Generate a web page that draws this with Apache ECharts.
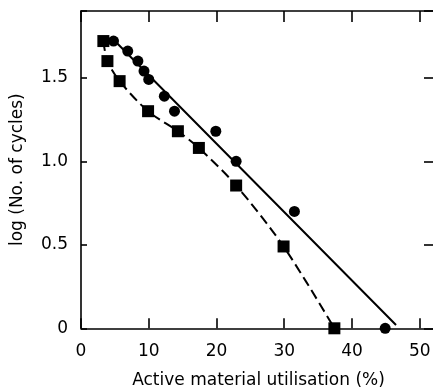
<!DOCTYPE html>
<html>
<head>
<meta charset="utf-8">
<script src="https://cdn.jsdelivr.net/npm/echarts@6/dist/echarts.min.js"></script>
<style>html,body{margin:0;padding:0;background:#fff;}#c{width:433px;height:387px;}</style>
</head>
<body>
<div id="c"></div>
<script>
// Circles (solid line data)
const circleX = [4.8, 6.9, 8.4, 9.3, 10.0, 12.3, 13.8, 19.9, 22.9, 31.5, 44.9];
const circleY = [1.72, 1.66, 1.60, 1.54, 1.49, 1.39, 1.30, 1.18, 1.00, 0.70, 0.0];
// Squares (dashed line data)
const squareX = [3.3, 3.9, 5.7, 9.9, 14.3, 17.4, 22.9, 29.9, 37.4];
const squareY = [1.72, 1.60, 1.48, 1.30, 1.18, 1.08, 0.855, 0.49, 0.0];
// Fitted curves
const solidFitX = [3.4, 5.0, 46.5];
const solidFitY = [1.73, 1.72, 0.02];
const dashFitX = [3.3, 3.9, 5.7, 9.9, 14.3, 17.4, 22.9, 29.9, 37.4];
const dashFitY = [1.72, 1.60, 1.48, 1.30, 1.18, 1.08, 0.855, 0.49, 0.0];
// Ticks
const xTicks = [0, 10, 20, 30, 40, 50];
const yTicks = ['0', '0.5', '1.0', '1.5'];

const zip = (a, b) => a.map((v, i) => [v, b[i]]);
const FONT = 'DejaVu Sans';
const chart = echarts.init(document.getElementById('c'), null, {renderer: 'canvas'});
const xLab = v => xTicks.indexOf(Math.round(v * 1000) / 1000) >= 0 ? String(v) : '';
const yLab = v => { const s = v === 0 ? '0' : v.toFixed(1); return yTicks.indexOf(s) >= 0 && Math.abs(v - parseFloat(s)) < 1e-6 ? s : ''; };
const lineStyle = {color: '#000', width: 1.6};
chart.setOption({
  animation: false,
  backgroundColor: '#fff',
  grid: {left: 81, top: 11, width: 355, height: 317.3, containLabel: false, outerBoundsMode: 'none'},
  xAxis: [{
    type: 'value', min: 0, max: 52.4, interval: 10, position: 'bottom',
    name: 'Active material utilisation (%)', nameLocation: 'middle', nameGap: 44,
    nameTextStyle: {fontFamily: FONT, fontSize: 17, color: '#000'},
    axisLine: {show: true, onZero: false, lineStyle: lineStyle},
    axisTick: {show: true, inside: true, length: 10, lineStyle: lineStyle},
    axisLabel: {formatter: xLab, margin: 15, fontFamily: FONT, fontSize: 17, color: '#000'},
    splitLine: {show: false}
  }, {
    type: 'value', min: 0, max: 52.4, interval: 10, position: 'top',
    axisLine: {show: true, onZero: false, lineStyle: lineStyle},
    axisTick: {show: true, inside: true, length: 11, lineStyle: lineStyle},
    axisLabel: {show: false}, splitLine: {show: false}
  }],
  yAxis: [{
    type: 'value', min: 0, max: 1.9, interval: 0.5, position: 'left',
    name: 'log (No. of cycles)', nameLocation: 'middle', nameGap: 55, nameRotate: 90,
    nameTextStyle: {fontFamily: FONT, fontSize: 17, color: '#000'},
    axisLine: {show: true, onZero: false, lineStyle: lineStyle},
    axisTick: {show: true, inside: true, length: 6, lineStyle: lineStyle},
    axisLabel: {formatter: yLab, margin: 13, fontFamily: FONT, fontSize: 17, color: '#000'},
    splitLine: {show: false}
  }, {
    type: 'value', min: 0, max: 1.9, interval: 0.5, position: 'right',
    axisLine: {show: true, onZero: false, lineStyle: lineStyle},
    axisTick: {show: true, inside: true, length: 12, lineStyle: lineStyle},
    axisLabel: {show: false}, splitLine: {show: false}
  }],
  series: [
    {type: 'line', data: zip(solidFitX, solidFitY), symbol: 'none', lineStyle: {color: '#000', width: 2}},
    {type: 'line', data: zip(dashFitX, dashFitY), symbol: 'none', smooth: 0.3,
     lineStyle: {color: '#000', width: 2, type: [10, 5]}},
    {type: 'scatter', data: zip(circleX, circleY), symbol: 'circle', symbolSize: 11, itemStyle: {color: '#000', opacity: 1}},
    {type: 'scatter', data: zip(squareX, squareY), symbol: 'rect', symbolSize: 12, itemStyle: {color: '#000', opacity: 1}}
  ]
});
</script>
</body>
</html>
